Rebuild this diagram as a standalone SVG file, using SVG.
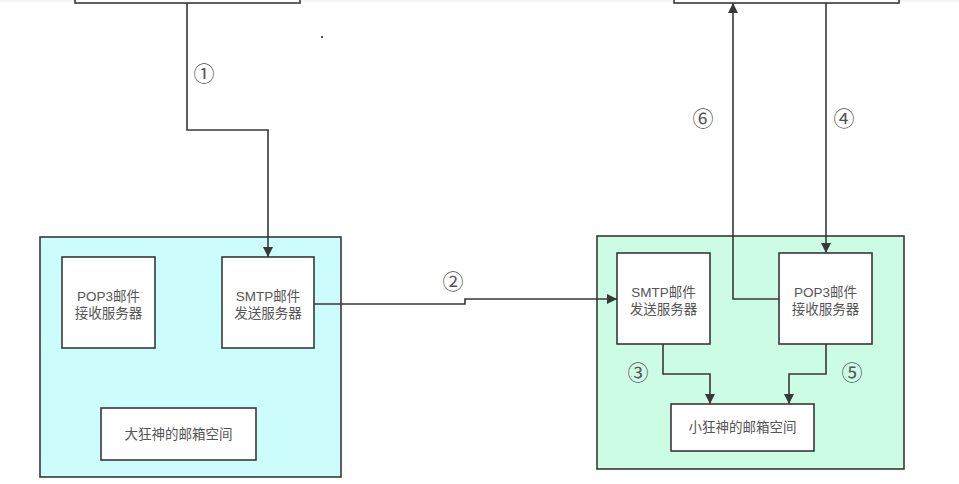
<svg xmlns="http://www.w3.org/2000/svg" width="959" height="484" viewBox="0 0 959 484">
<defs>
<marker id="arr" viewBox="0 0 10 10" refX="10" refY="5" markerWidth="10" markerHeight="10" markerUnits="userSpaceOnUse" orient="auto">
<path d="M0,0 L10,5 L0,10 z" fill="#383838"/>
</marker>
<style>
.box{fill:#ffffff;stroke:#383838;stroke-width:1.6}
.line{fill:none;stroke:#383838;stroke-width:1.6}
.t{font-family:"Liberation Sans","Noto Sans CJK SC",sans-serif;font-size:13.5px;fill:#555555;text-anchor:middle}
.n{font-family:"Liberation Sans","Noto Sans CJK SC",sans-serif;font-size:21px;fill:#555555;text-anchor:middle}
</style>
</defs>
<rect x="0" y="0" width="959" height="484" fill="#ffffff"/>
<line x1="0" y1="1" x2="959" y2="1" stroke="#ececf0" stroke-width="1"/>
<g id="top-left">
<rect x="75" y="-20" width="225" height="23" class="box"/>
</g>
<g id="top-right">
<rect x="674" y="-20" width="225" height="23" class="box"/>
</g>
<circle cx="322" cy="37" r="1" fill="#0000ff"/>
<g id="left-server">
<rect x="40" y="237" width="301" height="240" fill="#ccfcfc" stroke="#383838" stroke-width="1.6"/>
</g>
<g id="left-pop3">
<rect x="62" y="257" width="93" height="91" class="box"/>
<text class="t" x="108.5" y="301">POP3邮件</text>
<text class="t" x="108.5" y="318">接收服务器</text>
</g>
<g id="left-smtp">
<rect x="222" y="257" width="92" height="91" class="box"/>
<text class="t" x="268" y="301">SMTP邮件</text>
<text class="t" x="268" y="318">发送服务器</text>
</g>
<g id="left-mailbox">
<rect x="101" y="408" width="155" height="52" class="box"/>
<text class="t" x="178.5" y="439">大狂神的邮箱空间</text>
</g>
<g id="right-server">
<rect x="597" y="236" width="307" height="233" fill="#ccfce6" stroke="#383838" stroke-width="1.6"/>
</g>
<g id="right-smtp">
<rect x="617" y="253" width="93" height="91" class="box"/>
<text class="t" x="663.5" y="297">SMTP邮件</text>
<text class="t" x="663.5" y="314">发送服务器</text>
</g>
<g id="right-pop3">
<rect x="779" y="253" width="93" height="91" class="box"/>
<text class="t" x="825.5" y="297">POP3邮件</text>
<text class="t" x="825.5" y="314">接收服务器</text>
</g>
<g id="right-mailbox">
<rect x="671" y="404" width="143" height="47" class="box"/>
<text class="t" x="742.5" y="432">小狂神的邮箱空间</text>
</g>
<g id="connectors">
<path class="line" d="M187,3 V130 H268 V257" marker-end="url(#arr)"/>
<path class="line" d="M314,304 H465 V299 H617" marker-end="url(#arr)"/>
<path class="line" d="M826,3 V253" marker-end="url(#arr)"/>
<path class="line" d="M779,299 H733 V3" marker-end="url(#arr)"/>
<path class="line" d="M663,344 V374 H710 V404" marker-end="url(#arr)"/>
<path class="line" d="M826,344 V374 H789 V404" marker-end="url(#arr)"/>
</g>
<g id="labels">
<text class="n" x="204" y="81">①</text>
<text class="n" x="453" y="289">②</text>
<text class="n" x="638" y="380">③</text>
<text class="n" x="844" y="126">④</text>
<text class="n" x="852" y="380">⑤</text>
<text class="n" x="703" y="126">⑥</text>
</g>
</svg>
